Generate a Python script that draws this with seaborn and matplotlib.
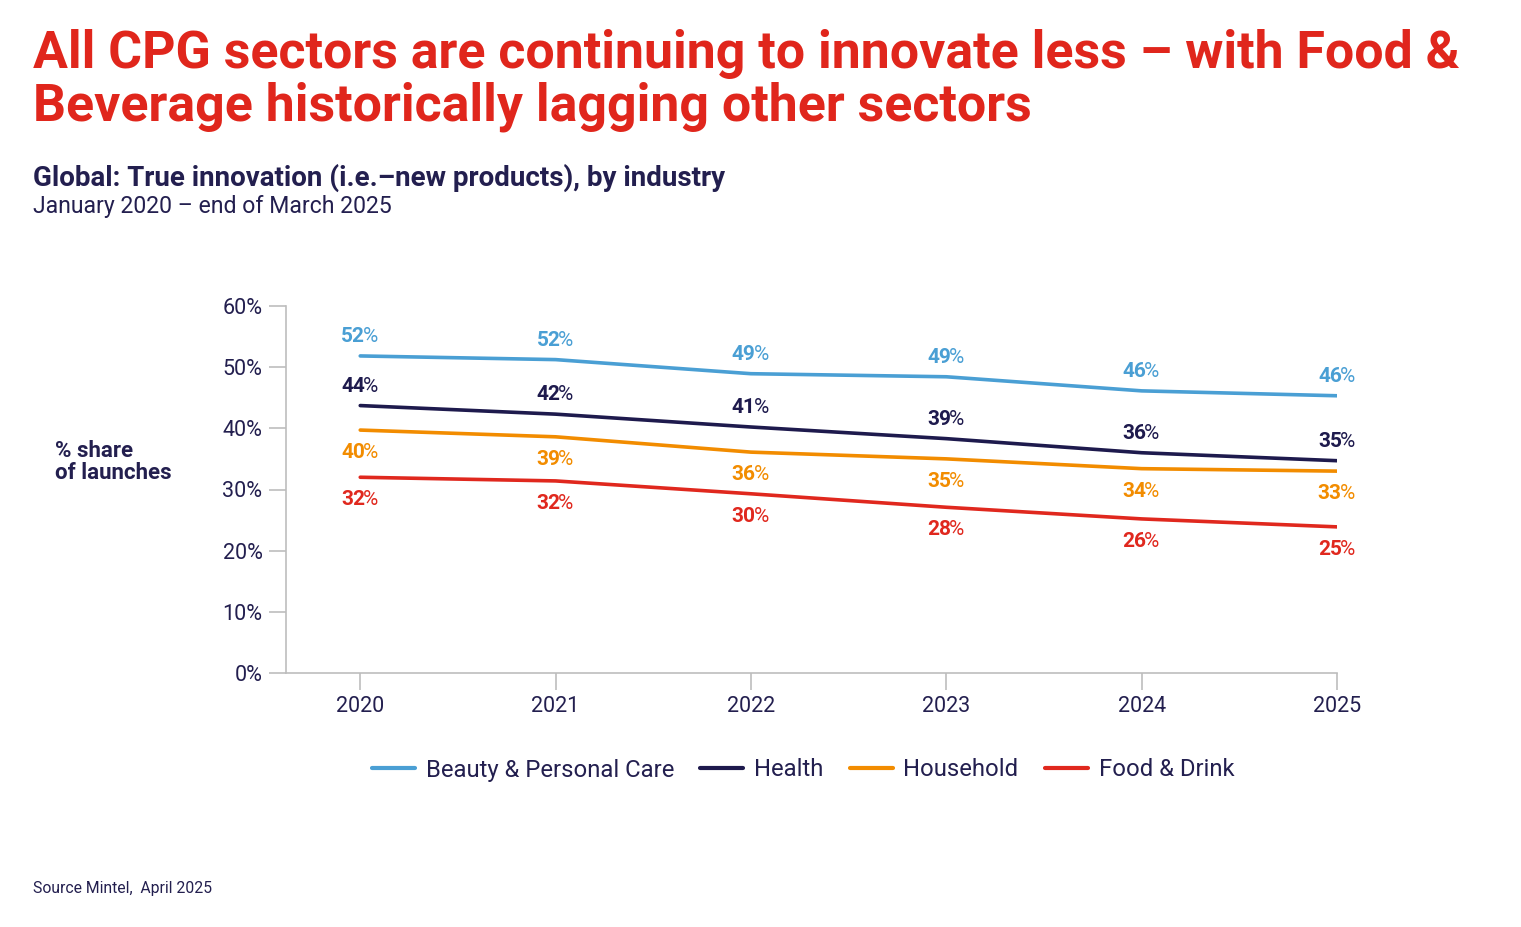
import matplotlib
matplotlib.use("Agg")
import matplotlib.pyplot as plt
import seaborn as sns
import pandas as pd
from matplotlib.ticker import FuncFormatter
from matplotlib.lines import Line2D

# ---- data ----
years = [2020, 2021, 2022, 2023, 2024, 2025]
series_names = ["Beauty & Personal Care", "Health", "Household", "Food & Drink"]
beauty = [51.8, 51.2, 48.9, 48.4, 46.1, 45.3]
health = [43.7, 42.3, 40.2, 38.3, 36.0, 34.7]
household = [39.7, 38.6, 36.1, 35.0, 33.4, 33.0]
food = [32.0, 31.4, 29.3, 27.1, 25.2, 23.9]
beauty_labels = [52, 52, 49, 49, 46, 46]
health_labels = [44, 42, 41, 39, 36, 35]
household_labels = [40, 39, 36, 35, 34, 33]
food_labels = [32, 32, 30, 28, 26, 25]
yticks = [0, 10, 20, 30, 40, 50, 60]

colors = ["#4a9fd4", "#1e1a4d", "#f28c00", "#e0281e"]
navy = "#231f4f"
grey = "#bdbdbd"

sns.set_theme(style="white")
plt.rcParams["font.family"] = ["Roboto", "DejaVu Sans"]

values = [beauty, health, household, food]
labels = [beauty_labels, health_labels, household_labels, food_labels]
df = pd.DataFrame({
    "year": years * 4,
    "value": beauty + health + household + food,
    "series": sum([[n] * len(years) for n in series_names], []),
})

fig = plt.figure(figsize=(15.21, 9.27), dpi=100)
ax = fig.add_axes([286 / 1521, 1 - 673.3 / 927, (1337 - 286) / 1521, (673.3 - 305.7) / 927])

sns.lineplot(data=df, x="year", y="value", hue="series", hue_order=series_names,
             palette=colors, linewidth=2.6, ax=ax, legend=False, solid_capstyle="round")

ax.set_xlim(2019.62, 2025)
ax.set_ylim(0, 60)
ax.set_xticks(years)
ax.set_yticks(yticks)
ax.yaxis.set_major_formatter(FuncFormatter(lambda v, p: f"{int(v)}%"))
ax.set_xlabel("")
ax.set_ylabel("")
for s in ["top", "right"]:
    ax.spines[s].set_visible(False)
for s in ["left", "bottom"]:
    ax.spines[s].set_color(grey)
    ax.spines[s].set_linewidth(1.2)
ax.tick_params(axis="both", which="both", direction="out", length=12, width=1.2,
               color=grey, labelcolor=navy, labelsize=15.5, pad=5,
               left=True, bottom=True)
ax.tick_params(axis="x", pad=4)

# data labels
offsets = [7, 7, -9.5, -9.5]
for vals, labs, col, off in zip(values, labels, colors, offsets):
    for x, v, lab in zip(years, vals, labs):
        va = "bottom" if off > 0 else "top"
        ax.annotate(f"{lab}", (x, v), xytext=(3.5, off), textcoords="offset points",
                    ha="right", va=va, color=col, fontsize=15, fontweight="bold")
        ax.annotate("%", (x, v), xytext=(1.8, off), textcoords="offset points",
                    ha="left", va=va, color=col, fontsize=15)

# y axis label
fig.text(55 / 1521, 1 - 462 / 927, "% share\nof launches", ha="left", va="center",
         color=navy, fontsize=16, fontweight="bold", linespacing=1.05)

# titles
fig.text(33 / 1521, 1 - 121 / 927,
         "All CPG sectors are continuing to innovate less \u2013 with Food &\nBeverage historically lagging other sectors",
         ha="left", va="baseline", color="#e0261c", fontsize=37.4, fontweight="bold",
         linespacing=1.07)
fig.text(33 / 1521, 1 - 186 / 927, "Global: True innovation (i.e.\u2013new products), by industry",
         ha="left", va="baseline", color=navy, fontsize=20, fontweight="bold")
fig.text(33 / 1521, 1 - 213 / 927, "January 2020 \u2013 end of March 2025",
         ha="left", va="baseline", color=navy, fontsize=16.6)
fig.text(33 / 1521, 1 - 893 / 927, "Source Mintel,  April 2025",
         ha="left", va="baseline", color=navy, fontsize=11.3)

# legend
handles = [Line2D([0], [0], color=c, lw=3, solid_capstyle="round") for c in colors]
fig.legend(handles, series_names, loc="center", bbox_to_anchor=(803 / 1521, 1 - 770 / 927),
           ncol=4, frameon=False, fontsize=17.2, labelcolor=navy, handlelength=1.8,
           handletextpad=0.45, columnspacing=1.1)

fig.savefig("out.png", dpi=100)
